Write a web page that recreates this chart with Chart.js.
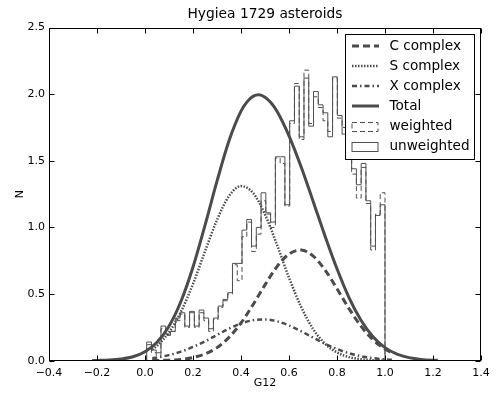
<!DOCTYPE html>
<html>
<head>
<meta charset="utf-8">
<script src="https://cdn.jsdelivr.net/npm/chart.js@4.4.0/dist/chart.umd.min.js"></script>
<style>
  html, body { margin: 0; padding: 0; background: #fff; }
  #wrap { width: 500px; height: 394px; }
</style>
</head>
<body>
<div id="wrap"><canvas id="c" width="500" height="394"></canvas></div>
<script>
// Histogram of G12: equal-width bins spanning histLo..histHi
const histLo = 0.007;
const histHi = 1.0;
const unweighted = [0.14, 0.08, 0.06, 0.26, 0.20, 0.22, 0.32, 0.36, 0.26, 0.37,
                    0.26, 0.38, 0.32, 0.24, 0.32, 0.41, 0.46, 0.51, 0.73, 0.73,
                    0.98, 1.06, 0.86, 1.00, 1.26, 1.11, 1.04, 1.53, 1.53, 1.17,
                    1.80, 2.06, 1.68, 2.12, 1.76, 2.02, 1.92, 1.86, 1.68, 2.13,
                    1.84, 1.70, 1.62, 1.44, 1.32, 1.48, 1.20, 0.86, 1.09, 1.17];
const weighted   = [0.12, 0.06, 0.04, 0.24, 0.19, 0.22, 0.30, 0.35, 0.25, 0.36,
                    0.25, 0.36, 0.30, 0.22, 0.31, 0.40, 0.45, 0.50, 0.72, 0.60,
                    0.93, 1.04, 0.82, 0.95, 1.20, 1.10, 1.00, 1.52, 1.48, 1.16,
                    1.78, 2.08, 1.66, 2.18, 1.78, 1.98, 1.90, 1.80, 1.72, 2.12,
                    1.82, 1.75, 1.55, 1.40, 1.22, 1.45, 1.18, 0.83, 1.10, 1.26];

// Complex profiles sampled along G12
const compG    = [0.03, 0.05, 0.10, 0.15, 0.20, 0.25, 0.30, 0.35, 0.40, 0.45, 0.50,
                  0.55, 0.60, 0.65, 0.70, 0.75, 0.80, 0.85, 0.90, 0.95, 1.00, 1.03];
const cComplex = [0.001, 0.002, 0.004, 0.010, 0.024, 0.051, 0.098, 0.175, 0.283, 0.420, 0.569,
                  0.706, 0.800, 0.830, 0.786, 0.681, 0.540, 0.391, 0.259, 0.157, 0.087, 0.058];
const sComplex = [0.084, 0.112, 0.213, 0.368, 0.576, 0.820, 1.056, 1.235, 1.310, 1.259, 1.098,
                  0.869, 0.623, 0.406, 0.239, 0.128, 0.062, 0.027, 0.011, 0.004, 0.001, 0.000];
const xComplex = [0.019, 0.024, 0.042, 0.068, 0.103, 0.145, 0.193, 0.240, 0.279, 0.304, 0.310,
                  0.296, 0.264, 0.221, 0.174, 0.127, 0.088, 0.056, 0.034, 0.019, 0.010, 0.007];

// Sum of the three complexes
const totalG = [-0.22, -0.20, -0.15, -0.10, -0.05, 0.00, 0.05, 0.10, 0.15, 0.20, 0.25, 0.30,
                0.35, 0.40, 0.425, 0.45, 0.475, 0.50, 0.525, 0.55, 0.60, 0.65, 0.70, 0.75,
                0.80, 0.85, 0.90, 0.95, 1.00, 1.05, 1.10, 1.15, 1.20, 1.22];
const total  = [0.001, 0.002, 0.005, 0.013, 0.030, 0.067, 0.138, 0.259, 0.446, 0.703, 1.016, 1.347,
                1.650, 1.872, 1.942, 1.983, 1.995, 1.977, 1.935, 1.871, 1.687, 1.457, 1.199, 0.936,
                0.690, 0.474, 0.304, 0.180, 0.098, 0.049, 0.023, 0.010, 0.004, 0.003];

const xTickVals   = [-0.4, -0.2, 0.0, 0.2, 0.4, 0.6, 0.8, 1.0, 1.2, 1.4];
const xTickLabels = ['\u22120.4', '\u22120.2', '0.0', '0.2', '0.4', '0.6', '0.8', '1.0', '1.2', '1.4'];
const yTickVals   = [0.0, 0.5, 1.0, 1.5, 2.0, 2.5];
const yTickLabels = ['0.0', '0.5', '1.0', '1.5', '2.0', '2.5'];

const chartTitle = 'Hygiea 1729 asteroids';

const FONT = '"DejaVu Sans", "Liberation Sans", sans-serif';
const INK = '#4b4b4b';
const HIST_INK = '#505050';

Chart.defaults.font.family = FONT;
Chart.defaults.font.size = 11;
Chart.defaults.color = '#000';

const pairs = (xs, ys) => xs.map((x, i) => ({ x: x, y: ys[i] }));

function histOutline(vals) {
  const w = (histHi - histLo) / vals.length;
  const pts = [{ x: histLo, y: 0 }];
  vals.forEach((v, i) => pts.push({ x: histLo + i * w, y: v }));
  pts.push({ x: histHi, y: vals[vals.length - 1] });
  pts.push({ x: histHi, y: 0 });
  return pts;
}

// Title centred over the plotting area
const plotTitle = {
  id: 'plotTitle',
  afterDraw(chart) {
    const { ctx, chartArea: a } = chart;
    ctx.save();
    ctx.font = '13.8px ' + FONT;
    ctx.fillStyle = '#000';
    ctx.textAlign = 'center';
    ctx.textBaseline = 'middle';
    ctx.fillText(chartTitle, (a.left + a.right) / 2, a.top - 13);
    ctx.restore();
  }
};

// Bordered legend placed inside the upper right of the plot
const boxLegend = {
  id: 'boxLegend',
  afterDraw(chart) {
    const { ctx, chartArea: a } = chart;
    const L = Math.round(a.right) - 136 + 0.5;
    const T = Math.round(a.top) + 6 + 0.5;
    const W = 129, H = 125;
    ctx.save();
    ctx.fillStyle = '#fff';
    ctx.fillRect(L, T, W, H);
    ctx.setLineDash([]);
    ctx.lineWidth = 1;
    ctx.strokeStyle = '#000';
    ctx.strokeRect(L, T, W, H);
    ctx.font = '13.6px ' + FONT;
    ctx.textBaseline = 'middle';
    ctx.textAlign = 'left';
    chart.data.datasets.forEach((ds, i) => {
      const cy = T + 11.5 + i * 20;
      const hx = L + 6.5;
      ctx.save();
      ctx.strokeStyle = ds.borderColor;
      ctx.setLineDash(ds.borderDash || []);
      if (ds.patch) {
        ctx.lineWidth = 1;
        ctx.strokeRect(hx, Math.round(cy - 4.5) + 0.5, 26, 9);
      } else {
        ctx.lineWidth = ds.borderWidth;
        ctx.lineCap = 'butt';
        ctx.beginPath();
        ctx.moveTo(hx, cy);
        ctx.lineTo(hx + 27, cy);
        ctx.stroke();
      }
      ctx.restore();
      ctx.fillStyle = '#000';
      ctx.fillText(ds.label, L + 44, cy + 0.5);
    });
    ctx.restore();
  }
};

// Axes frame with inward ticks on all four sides
const frameTicks = {
  id: 'frameTicks',
  afterDatasetsDraw(chart) {
    const { ctx, chartArea: a, scales } = chart;
    const l = Math.round(a.left) + 0.5, r = Math.round(a.right) - 0.5;
    const t = Math.round(a.top) + 0.5, b = Math.round(a.bottom) - 0.5;
    ctx.save();
    ctx.setLineDash([]);
    ctx.strokeStyle = '#000';
    ctx.lineWidth = 1;
    ctx.beginPath();
    xTickVals.forEach(v => {
      const px = Math.round(scales.x.getPixelForValue(v)) + 0.5;
      ctx.moveTo(px, b); ctx.lineTo(px, b - 5);
      ctx.moveTo(px, t); ctx.lineTo(px, t + 5);
    });
    yTickVals.forEach(v => {
      const py = Math.round(scales.y.getPixelForValue(v)) + 0.5;
      ctx.moveTo(l, py); ctx.lineTo(l + 5, py);
      ctx.moveTo(r, py); ctx.lineTo(r - 5, py);
    });
    ctx.stroke();
    ctx.strokeRect(l, t, r - l, b - t);
    ctx.restore();
  }
};

const curve = (label, xs, ys, width, dash) => ({
  label: label,
  data: pairs(xs, ys),
  borderColor: INK,
  borderWidth: width,
  borderDash: dash,
  borderCapStyle: 'butt',
  pointRadius: 0,
  fill: false,
  cubicInterpolationMode: 'monotone'
});

const hist = (label, vals, dash) => ({
  label: label,
  data: histOutline(vals),
  borderColor: HIST_INK,
  borderWidth: 1,
  borderDash: dash,
  pointRadius: 0,
  fill: false,
  stepped: 'before',
  patch: true
});

new Chart(document.getElementById('c'), {
  type: 'line',
  data: {
    datasets: [
      curve('C complex', compG, cComplex, 3, [7, 4]),
      curve('S complex', compG, sComplex, 2.5, [1.5, 1.5]),
      curve('X complex', compG, xComplex, 2.5, [5, 3, 1.5, 3]),
      curve('Total', totalG, total, 3, []),
      hist('weighted', weighted, [5, 3]),
      hist('unweighted', unweighted, [])
    ]
  },
  options: {
    responsive: false,
    animation: false,
    devicePixelRatio: 1,
    layout: { padding: { left: 0, right: 19, top: 27.5, bottom: 0 } },
    plugins: {
      legend: { display: false },
      tooltip: { enabled: false },
      title: { display: false }
    },
    scales: {
      x: {
        type: 'linear',
        min: -0.4,
        max: 1.4,
        grid: { display: false, drawTicks: false },
        border: { display: false },
        afterBuildTicks: s => { s.ticks = xTickVals.map(v => ({ value: v })); },
        afterFit: s => { s.height = 33.3; },
        ticks: { padding: 6, maxRotation: 0, autoSkip: false,
                 callback: (v, i) => xTickLabels[i], font: { size: 11 } },
        title: { display: true, text: 'G12', font: { size: 11 }, padding: { top: 0, bottom: 4 } }
      },
      y: {
        min: 0,
        max: 2.5,
        grid: { display: false, drawTicks: false },
        border: { display: false },
        afterBuildTicks: s => { s.ticks = yTickVals.map(v => ({ value: v })); },
        afterFit: s => { s.width = 49; },
        ticks: { padding: 4, autoSkip: false,
                 callback: (v, i) => yTickLabels[i], font: { size: 11 } },
        title: { display: true, text: 'N', font: { size: 11 }, padding: { top: 14, bottom: 0 } }
      }
    }
  },
  plugins: [frameTicks, plotTitle, boxLegend]
});
</script>
</body>
</html>
